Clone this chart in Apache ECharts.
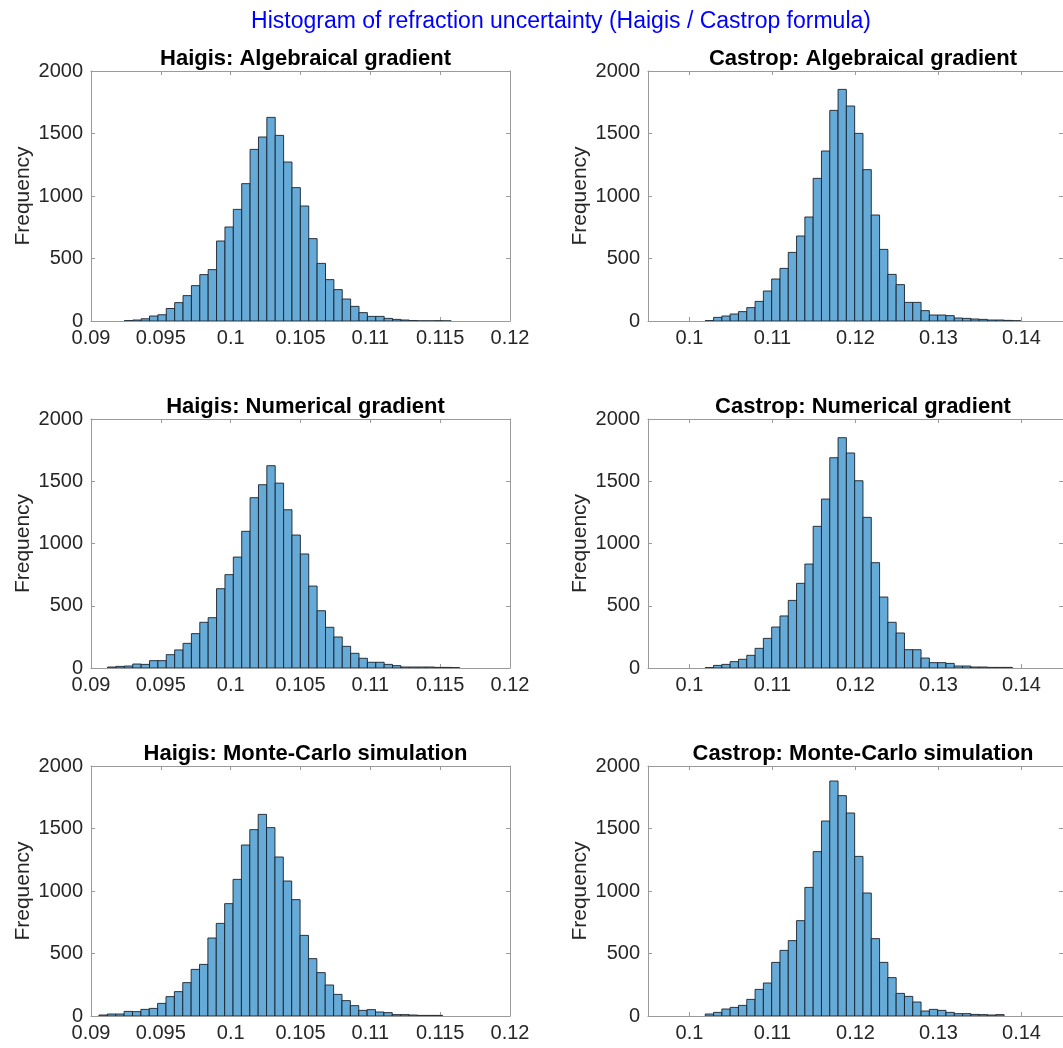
<!DOCTYPE html>
<html lang="en">
<head>
    <meta charset="UTF-8">
    <script src="https://cdn.jsdelivr.net/npm/echarts@6/dist/echarts.min.js"></script>
    <title>Refraction uncertainty histograms</title>
    <style>
        body { margin: 0; background: #fff; }
        #chart { width: 1063px; height: 1048px; }
    </style>
</head>
<body>
<div id="chart"></div>
<script>
    // bin layout per panel: first edge + bin width, counts
    let haigisAlgStart = 0.09239, haigisAlgWidth = 0.0006
    let haigisAlgCounts = [3, 8, 18, 40, 50, 100, 147, 203, 283, 371, 411, 640, 752, 893, 1099, 1373, 1472, 1629, 1485, 1272,
        1067, 920, 659, 461, 331, 251, 176, 117, 67, 37, 37, 21, 13, 8, 3, 1, 1, 2, 1]

    let castropAlgStart = 0.1019, castropAlgWidth = 0.001
    let castropAlgCounts = [3, 29, 40, 56, 75, 107, 157, 240, 336, 421, 549, 680, 832, 1141, 1360, 1685, 1853, 1720, 1501, 1211,
        848, 573, 373, 291, 149, 149, 83, 48, 48, 43, 24, 21, 16, 13, 8, 8, 5, 2]

    let haigisNumStart = 0.09119, haigisNumWidth = 0.0006
    let haigisNumCounts = [8, 13, 16, 32, 29, 59, 59, 107, 145, 198, 276, 367, 404, 637, 750, 891, 1098, 1368, 1472, 1625,
        1485, 1271, 1068, 916, 658, 460, 327, 249, 174, 118, 78, 46, 46, 29, 19, 8, 8, 8, 8, 5, 5, 3]

    let castropNumStart = 0.1019, castropNumWidth = 0.001
    let castropNumCounts = [3, 21, 29, 51, 70, 102, 158, 238, 329, 418, 543, 680, 835, 1138, 1357, 1689, 1850, 1727, 1504, 1210,
        846, 570, 367, 281, 147, 147, 80, 43, 43, 37, 16, 16, 8, 8, 5, 5, 5]

    let haigisMcStart = 0.09057, haigisMcWidth = 0.0006
    let haigisMcCounts = [8, 16, 16, 37, 35, 53, 61, 101, 155, 195, 267, 373, 413, 624, 741, 899, 1093, 1368, 1491, 1613,
        1507, 1272, 1080, 931, 645, 459, 347, 248, 173, 123, 83, 45, 51, 32, 27, 11, 11, 8, 5, 5, 5]

    let castropMcStart = 0.1019, castropMcWidth = 0.001
    let castropMcCounts = [16, 29, 56, 69, 85, 133, 213, 264, 429, 525, 603, 763, 1029, 1315, 1560, 1880, 1763, 1624, 1277, 984,
        619, 429, 307, 181, 157, 112, 40, 53, 45, 29, 19, 19, 13, 11, 8, 11]

    let panelTitles = ['Haigis: Algebraical gradient', 'Castrop: Algebraical gradient',
        'Haigis: Numerical gradient', 'Castrop: Numerical gradient',
        'Haigis: Monte-Carlo simulation', 'Castrop: Monte-Carlo simulation']
    let haigisTicks = [0.09, 0.095, 0.1, 0.105, 0.11, 0.115, 0.12]
    let castropTicks = [0.1, 0.11, 0.12, 0.13, 0.14]
    let freqTicks = [0, 500, 1000, 1500, 2000]

    let panels = [
        [haigisAlgStart, haigisAlgWidth, haigisAlgCounts],
        [castropAlgStart, castropAlgWidth, castropAlgCounts],
        [haigisNumStart, haigisNumWidth, haigisNumCounts],
        [castropNumStart, castropNumWidth, castropNumCounts],
        [haigisMcStart, haigisMcWidth, haigisMcCounts],
        [castropMcStart, castropMcWidth, castropMcCounts]
    ]

    let font = '"Liberation Sans", Arial, Helvetica, sans-serif'
    let boxColor = '#9a9a9a'
    let textColor = '#262626'
    let gridLefts = [91, 648]
    let gridWidths = [419, 420]
    let gridTops = [71, 419, 766]
    let gridHeights = [250, 249, 250]

    function bins(start, width, counts) {
        let out = []
        for (let i = 0; i < counts.length; i++) {
            out.push([start + i * width, start + (i + 1) * width, counts[i]])
        }
        return out
    }

    function renderBar(params, api) {
        let p0 = api.coord([api.value(0), api.value(2)])
        let p1 = api.coord([api.value(1), 0])
        return {
            type: 'rect',
            shape: {x: p0[0], y: p0[1], width: p1[0] - p0[0], height: p1[1] - p0[1]},
            style: {fill: '#66aad7', stroke: '#17212b', lineWidth: 0.9}
        }
    }

    let option = {
        backgroundColor: '#fff',
        animation: false,
        title: [{
            text: 'Histogram of refraction uncertainty (Haigis / Castrop formula)',
            left: 556, top: 5, textAlign: 'center',
            textStyle: {color: '#0000ff', fontSize: 23, fontWeight: 'normal', fontFamily: font}
        }],
        grid: [], xAxis: [], yAxis: [], series: []
    }

    for (let i = 0; i < 6; i++) {
        let col = i % 2, row = Math.floor(i / 2)
        let left = gridLefts[col], top = gridTops[row]
        option.grid.push({left: left, top: top, width: gridWidths[col], height: gridHeights[row], containLabel: false})
        option.title.push({
            text: panelTitles[i],
            left: left + gridWidths[col] / 2, top: top - 28, textAlign: 'center',
            textStyle: {color: '#000', fontSize: 22, fontWeight: 'bold', fontFamily: font}
        })
        let ticks = col === 0 ? haigisTicks : castropTicks
        let xmin = col === 0 ? 0.09 : 0.095
        let xmax = col === 0 ? 0.12 : 0.145
        let common = {
            type: 'value', gridIndex: i, min: xmin, max: xmax,
            axisLine: {show: true, onZero: false, lineStyle: {color: boxColor, width: 1}},
            axisTick: {show: true, inside: true, length: 4, customValues: ticks, lineStyle: {color: boxColor}},
            splitLine: {show: false}
        }
        option.xAxis.push(Object.assign({}, common, {
            position: 'bottom',
            axisLabel: {show: true, customValues: ticks, margin: 7, color: textColor, fontSize: 20, fontFamily: font,
                formatter: function (v) { return String(Math.round(v * 1000) / 1000) }}
        }))
        option.xAxis.push(Object.assign({}, common, {position: 'top', axisLabel: {show: false}}))
        let ycommon = {
            type: 'value', gridIndex: i, min: 0, max: 2000, interval: 500,
            axisLine: {show: true, onZero: false, lineStyle: {color: boxColor, width: 1}},
            axisTick: {show: true, inside: true, length: 4, lineStyle: {color: boxColor}},
            splitLine: {show: false}
        }
        option.yAxis.push(Object.assign({}, ycommon, {
            position: 'left',
            name: 'Frequency', nameLocation: 'middle', nameGap: 57,
            nameTextStyle: {color: textColor, fontSize: 21, fontFamily: font},
            axisLabel: {show: true, margin: 8, color: textColor, fontSize: 20, fontFamily: font,
                customValues: freqTicks, formatter: function (v) { return String(v) }}
        }))
        option.yAxis.push(Object.assign({}, ycommon, {position: 'right', axisLabel: {show: false}}))
        option.series.push({
            type: 'custom',
            xAxisIndex: i * 2, yAxisIndex: i * 2,
            renderItem: renderBar,
            encode: {x: [0, 1], y: 2},
            data: bins(panels[i][0], panels[i][1], panels[i][2]),
            clip: true
        })
    }

    var chart = echarts.init(document.getElementById('chart'))
    chart.setOption(option)
</script>
</body>
</html>
